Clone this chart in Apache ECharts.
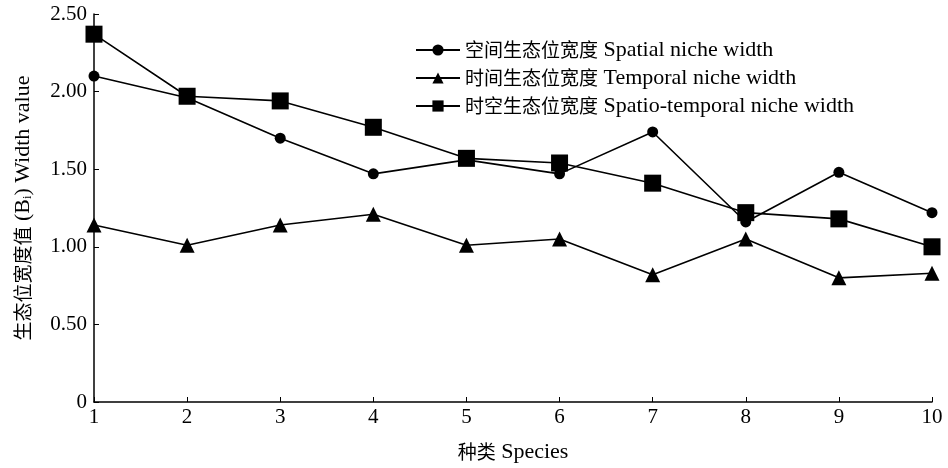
<!DOCTYPE html>
<html><head><meta charset="utf-8">
<script src="https://cdn.jsdelivr.net/npm/echarts@6/dist/echarts.min.js"></script>
<style>html,body{margin:0;padding:0;background:#fff}#c{width:948px;height:468px}</style>
</head><body><div id="c"></div>
<script>
const categories = ['1','2','3','4','5','6','7','8','9','10'];
const spatial = [2.10, 1.96, 1.70, 1.47, 1.56, 1.47, 1.74, 1.16, 1.48, 1.22];
const temporal = [1.14, 1.01, 1.14, 1.21, 1.01, 1.05, 0.82, 1.05, 0.80, 0.83];
const spatioTemporal = [2.37, 1.97, 1.94, 1.77, 1.57, 1.54, 1.41, 1.22, 1.18, 1.00];
const namesCn = ['空间生态位宽度','时间生态位宽度','时空生态位宽度'];
const namesEn = ['Spatial niche width','Temporal niche width','Spatio-temporal niche width'];
const seriesNames = namesCn.map((c, i) => c + ' ' + namesEn[i]);

const SERIF = '"Liberation Serif", "Times New Roman", serif';
const CJK = '"Noto Sans CJK SC", sans-serif';
const chart = echarts.init(document.getElementById('c'));
const mk = (name, data, symbol, size) => ({
  name, type: 'line', data, symbol, symbolSize: size,
  lineStyle: {color: '#000', width: 1.6}, itemStyle: {color: '#000'},
  emphasis: {disabled: true}, animation: false
});
chart.setOption({
  animation: false,
  grid: {left: 94, right: 16, top: 14, bottom: 64, containLabel: false},
  legend: {
    orient: 'vertical', left: 410, top: 34, itemGap: 6, itemWidth: 44, itemHeight: 14,
    formatter: n => {
      const i = seriesNames.indexOf(n);
      return '{c|' + namesCn[i] + '}{e| ' + namesEn[i] + '}';
    },
    textStyle: {color: '#000', padding: [0,0,0,0], rich: {
      c: {fontFamily: CJK, fontSize: 19, color: '#000', lineHeight: 23},
      e: {fontFamily: SERIF, fontSize: 22, color: '#000', lineHeight: 23}
    }},
    data: seriesNames
  },
  xAxis: {
    type: 'category', data: categories, boundaryGap: false,
    name: '{c|种类}{e| Species}', nameLocation: 'middle', nameGap: 39,
    nameTextStyle: {rich: {
      c: {fontFamily: CJK, fontSize: 19, color: '#000'},
      e: {fontFamily: SERIF, fontSize: 22, color: '#000'}
    }},
    axisLine: {lineStyle: {color: '#000', width: 1.5}},
    axisTick: {inside: true, length: 5, lineStyle: {color: '#000'}},
    axisLabel: {fontFamily: SERIF, fontSize: 21, color: '#000', margin: 5, interval: 0},
    splitLine: {show: false}
  },
  yAxis: {
    type: 'value', min: 0, max: 2.5, interval: 0.5,
    name: '{c|生态位宽度值}{e| (B}{s|i}{e|) Width value}', nameLocation: 'middle', nameGap: 60, nameRotate: 90,
    nameTextStyle: {rich: {
      c: {fontFamily: CJK, fontSize: 19, color: '#000'},
      e: {fontFamily: SERIF, fontSize: 22, color: '#000'},
      s: {fontFamily: SERIF, fontSize: 12, color: '#000', verticalAlign: 'bottom', padding: [8,0,0,0]}
    }},
    axisLine: {show: true, lineStyle: {color: '#000', width: 1.5}},
    axisTick: {show: true, inside: true, length: 5, lineStyle: {color: '#000'}},
    axisLabel: {fontFamily: SERIF, fontSize: 21, color: '#000', margin: 7,
      formatter: v => v === 0 ? '0' : v.toFixed(2)},
    splitLine: {show: false}
  },
  series: [
    mk(seriesNames[0], spatial, 'circle', 11),
    mk(seriesNames[1], temporal, 'triangle', 15),
    mk(seriesNames[2], spatioTemporal, 'rect', 17)
  ]
});
</script></body></html>
